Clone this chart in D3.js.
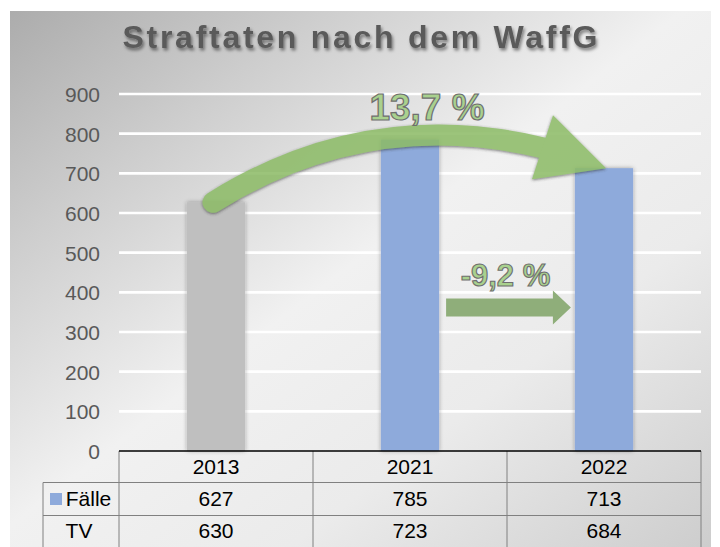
<!DOCTYPE html>
<html>
<head>
<meta charset="utf-8">
<script src="https://cdn.jsdelivr.net/npm/d3@7"></script>
<style>
  html, body { margin: 0; padding: 0; background: #ffffff; }
  svg { display: block; font-family: "Liberation Sans", Arial, sans-serif; }
</style>
</head>
<body>
<svg id="chart" width="720" height="547"></svg>
<script>
// ---- data ----
const title = "Straftaten nach dem WaffG";
const categories = ["2013", "2021", "2022"];
const faelle = [627, 785, 713];
const tv = [630, 723, 684];
const seriesNames = ["Fälle", "TV"];
const yTickValues = [0, 100, 200, 300, 400, 500, 600, 700, 800, 900];
const changeLabels = ["13,7 %", "-9,2 %"];
const straightArrowLevel = 362;

// ---- layout ----
const W = 720, H = 547;
const plotL = 119, plotR = 701, plotT = 94, plotB = 451;
const svg = d3.select("#chart");
const defs = svg.append("defs");

const bg = defs.append("linearGradient").attr("id", "bg")
  .attr("x1", "0").attr("y1", "0").attr("x2", "1").attr("y2", "1");
[[0, "#acacac"], [0.22, "#cdcdcd"], [0.48, "#f1f1f1"], [0.7, "#ebebeb"], [1, "#cdcdcd"]]
  .forEach(([o, c]) => bg.append("stop").attr("offset", o).attr("stop-color", c));

const shadow = defs.append("filter").attr("id", "barShadow")
  .attr("x", "-30%").attr("y", "-10%").attr("width", "160%").attr("height", "120%");
shadow.append("feDropShadow").attr("dx", 0).attr("dy", 0).attr("stdDeviation", 2.2)
  .attr("flood-color", "#000").attr("flood-opacity", 0.35);

const tshadow = defs.append("filter").attr("id", "titleShadow")
  .attr("x", "-10%").attr("y", "-30%").attr("width", "120%").attr("height", "170%");
tshadow.append("feDropShadow").attr("dx", 1.5).attr("dy", 2.5).attr("stdDeviation", 1.8)
  .attr("flood-color", "#000").attr("flood-opacity", 0.45);

const ashadow = defs.append("filter").attr("id", "arrowShadow")
  .attr("x", "-10%").attr("y", "-30%").attr("width", "120%").attr("height", "160%");
ashadow.append("feDropShadow").attr("dx", 0).attr("dy", 1).attr("stdDeviation", 1.8)
  .attr("flood-color", "#333").attr("flood-opacity", 0.75);

// background
svg.append("rect").attr("x", 10).attr("y", 11).attr("width", 701).attr("height", H - 11)
  .attr("fill", "url(#bg)");

// scales
const x = d3.scaleBand().domain(categories).range([plotL, plotR]).paddingInner(0).paddingOuter(0);
const y = d3.scaleLinear().domain([0, 900]).range([plotB, plotT]);
const barW = x.bandwidth() * 0.30;
const xc = c => x(c) + x.bandwidth() / 2;

// gridlines
svg.append("g").selectAll("line").data(yTickValues.filter(v => v > 0)).join("line")
  .attr("x1", plotL).attr("x2", plotR)
  .attr("y1", d => y(d)).attr("y2", d => y(d))
  .attr("stroke", "#ffffff").attr("stroke-width", 2.6);

// y axis labels
const yAxis = d3.axisLeft(y).tickValues(yTickValues).tickSize(0).tickPadding(0).tickFormat(d3.format("d"));
const ya = svg.append("g").attr("transform", `translate(${plotL - 19},0)`).call(yAxis);
ya.select(".domain").remove();
ya.selectAll("text").attr("font-size", 21).attr("fill", "#595959")
  .attr("font-family", "'Liberation Sans', Arial, sans-serif").attr("dy", "0.36em");

// bars
svg.append("g").selectAll("rect").data(categories).join("rect")
  .attr("x", c => xc(c) - barW / 2)
  .attr("y", (c, i) => y(faelle[i]))
  .attr("width", barW)
  .attr("height", (c, i) => y(0) - y(faelle[i]))
  .attr("fill", (c, i) => i === 0 ? "#bfbfbf" : "#8eaadb")
  .attr("filter", "url(#barShadow)");

// title
const tt = svg.append("text").attr("x", 360).attr("y", 48).attr("text-anchor", "middle")
  .attr("font-size", 32).attr("font-weight", "bold").attr("fill", "#5a5a5a")
  .attr("filter", "url(#titleShadow)").text(title);
const natural = tt.node().getComputedTextLength();
const targetW = 475;
tt.attr("letter-spacing", (targetW - natural) / (title.length - 1));
tt.attr("x", 360 + (targetW - natural) / (title.length - 1) / 2);

// curved arrow 2013 -> 2022
const sx = xc(categories[0]) - 3, sy = y(faelle[0]);
const tipX = xc(categories[2]) + 2, tipY = y(faelle[2]);
const headTop = [tipX - 53, tipY - 53];
const headBot = [tipX - 74, tipY + 11];
const baseMid = [(headTop[0] + headBot[0]) / 2, (headTop[1] + headBot[1]) / 2];
const arrowG = svg.append("g").attr("filter", "url(#arrowShadow)").attr("opacity", 0.86);
arrowG.append("path")
  .attr("d", `M${sx},${sy} Q${xc(categories[1]) - 40},${y(900) + 10} ${baseMid[0] + 6},${baseMid[1] + 2}`)
  .attr("fill", "none").attr("stroke", "#8cbb66").attr("stroke-width", 21).attr("stroke-linecap", "round");
arrowG.append("path")
  .attr("d", `M${headTop[0]},${headTop[1]} L${tipX},${tipY} L${headBot[0]},${headBot[1]} Z`)
  .attr("fill", "#8cbb66");

svg.append("text").attr("x", 427).attr("y", 120).attr("text-anchor", "middle")
  .attr("font-size", 37).attr("font-weight", "bold")
  .attr("fill", "#a9d18e").attr("stroke", "#6f6f6f").attr("stroke-width", 1.2)
  .text(changeLabels[0]);

// straight arrow 2021 -> 2022
const ax0 = x(categories[1]) + x.bandwidth() / 2 + barW / 2 + 7;
const ax1 = xc(categories[2]) - barW / 2 - 4;
const ay = y(straightArrowLevel);
svg.append("path")
  .attr("d", `M${ax0},${ay - 9} L${ax1 - 18},${ay - 9} L${ax1 - 18},${ay - 17} L${ax1},${ay} L${ax1 - 18},${ay + 17} L${ax1 - 18},${ay + 9} L${ax0},${ay + 9} Z`)
  .attr("fill", "#8fae7a");
svg.append("text").attr("x", (ax0 + ax1) / 2 - 3).attr("y", 285.5).attr("text-anchor", "middle")
  .attr("font-size", 31).attr("font-weight", "bold")
  .attr("fill", "#a9d18e").attr("stroke", "#6f6f6f").attr("stroke-width", 1.1)
  .text(changeLabels[1]);

// data table
const rowH = [451, 482.5, 515.5, 548];
const tbl = svg.append("g");
const legL = 43;
tbl.selectAll("line.h").data([rowH[1], rowH[2]]).join("line")
  .attr("x1", legL).attr("x2", plotR).attr("y1", d => d).attr("y2", d => d)
  .attr("stroke", "#808080").attr("stroke-width", 1);
const vx = [plotL, ...categories.map(c => x(c) + x.bandwidth())];
tbl.selectAll("line.v").data(vx).join("line")
  .attr("x1", d => d).attr("x2", d => d).attr("y1", rowH[0]).attr("y2", H)
  .attr("stroke", "#808080").attr("stroke-width", 1);
tbl.append("line").attr("x1", legL).attr("x2", legL).attr("y1", rowH[1]).attr("y2", H)
  .attr("stroke", "#808080").attr("stroke-width", 1);
tbl.append("line").attr("x1", plotL).attr("x2", plotR).attr("y1", plotB).attr("y2", plotB)
  .attr("stroke", "#000").attr("stroke-width", 1.4);

const tf = { "font-size": 21, "fill": "#000", "text-anchor": "middle" };
function tx(sel, xx, yy, s) {
  const t = sel.append("text").attr("x", xx).attr("y", yy).text(s);
  Object.entries(tf).forEach(([k, v]) => t.attr(k, v));
  return t;
}
categories.forEach((c, i) => {
  tx(tbl, xc(c), 474, c);
  tx(tbl, xc(c), 505.7, faelle[i]);
  tx(tbl, xc(c), 538.3, tv[i]);
});
tbl.append("rect").attr("x", 50).attr("y", 493).attr("width", 12).attr("height", 12).attr("fill", "#8eaadb");
tx(tbl, 88.5, 505.7, seriesNames[0]);
tx(tbl, 79, 538.3, seriesNames[1]);
</script>
</body>
</html>
